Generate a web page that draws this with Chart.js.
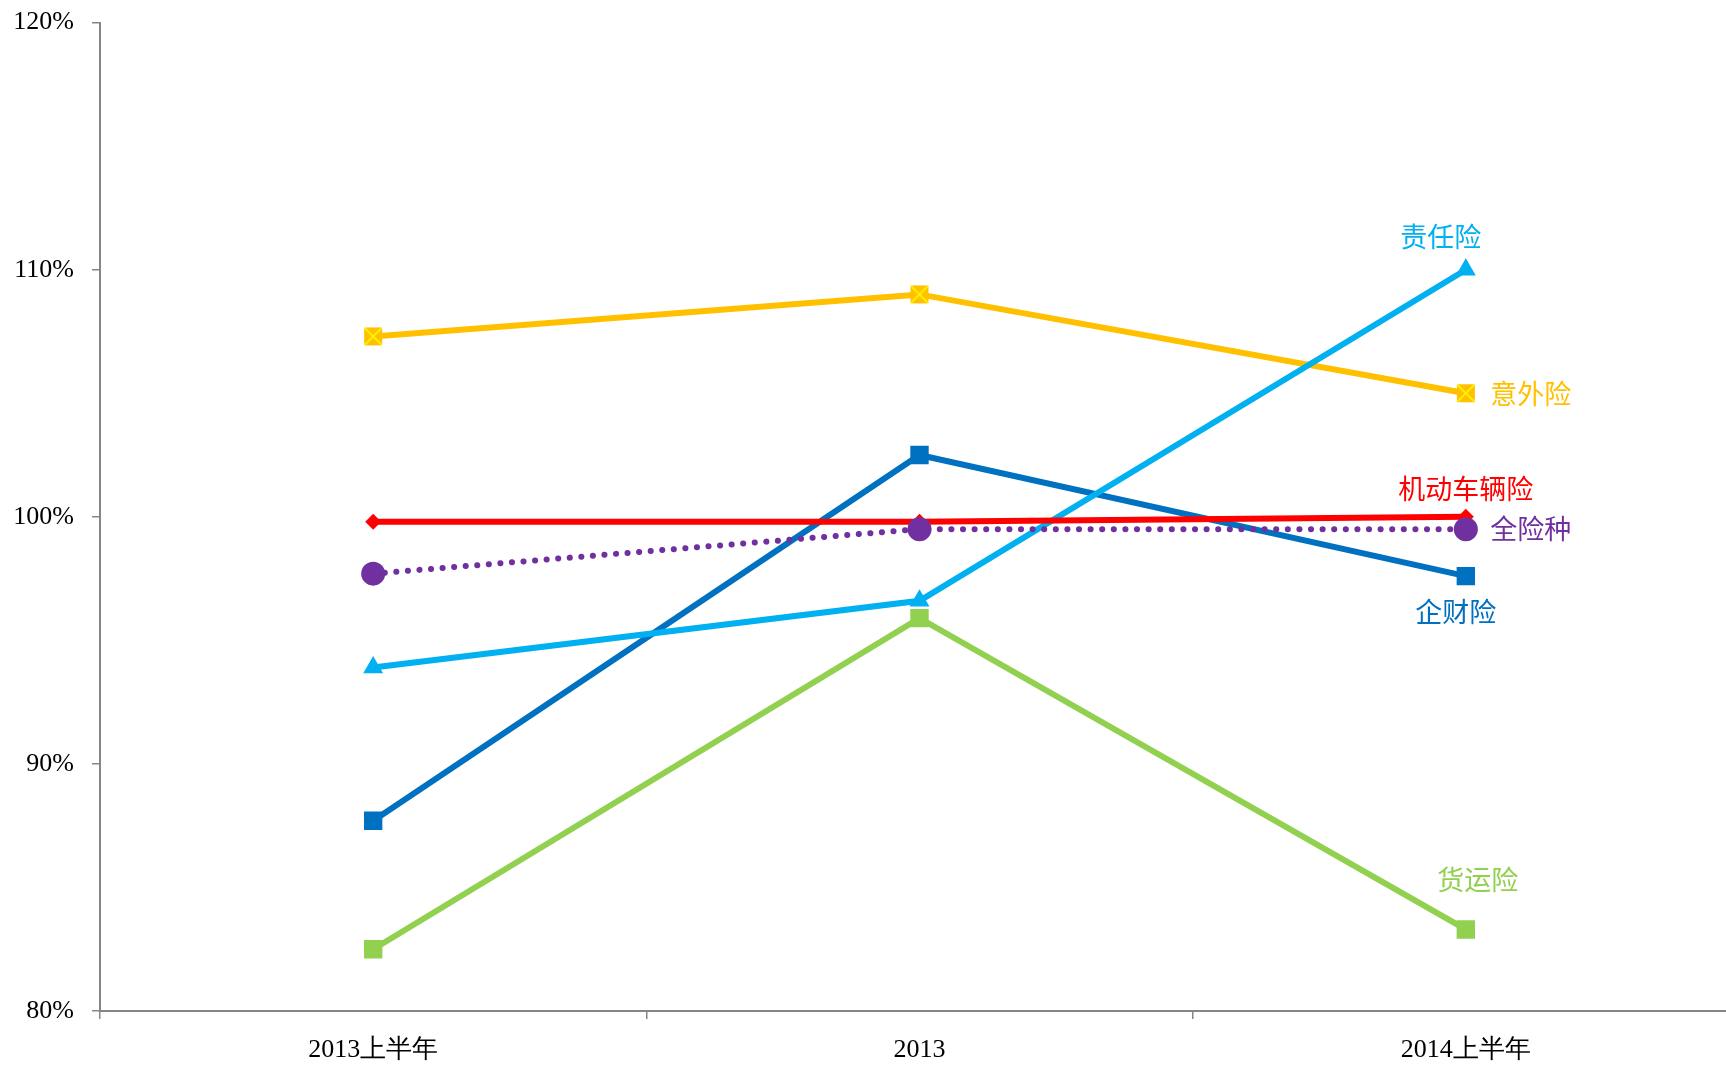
<!DOCTYPE html>
<html>
<head>
<meta charset="utf-8">
<script src="https://cdn.jsdelivr.net/npm/chart.js@4/dist/chart.umd.min.js"></script>
<style>
  html, body { margin: 0; padding: 0; background: #fff; overflow: hidden; }
  #clip { width: 1726px; height: 1066px; overflow: hidden; position: relative; }
  /* plot runs past the right edge, like the original */
  #chart { position: absolute; left: 0; top: -11px; }
</style>
</head>
<body>
<div id="clip"><canvas id="chart" width="1755" height="1077"></canvas></div>
<script>
// categories and tick labels
const periods = ['2013上半年', '2013', '2014上半年'];
const yTicks = [80, 90, 100, 110, 120];

// series values (%)
const accident = [107.3, 109.0, 105.0];   // 意外险
const liability = [93.9, 96.6, 110.0];    // 责任险
const motor = [99.8, 99.8, 100.0];        // 机动车辆险
const allLines = [97.7, 99.5, 99.5];      // 全险种
const property = [87.7, 102.5, 97.6];     // 企财险
const cargo = [82.5, 95.9, 83.3];         // 货运险

// yellow square with a yellow X, as in the original marker
function makeCrossBox() {
    const c = document.createElement('canvas');
    c.width = 20; c.height = 20;
    const g = c.getContext('2d');
    g.fillStyle = '#FFC000';
    g.fillRect(1, 1, 18, 18);
    g.strokeStyle = '#FFFF00';
    g.lineWidth = 1.6;
    g.beginPath();
    g.moveTo(1.5, 1.5); g.lineTo(18.5, 18.5);
    g.moveTo(18.5, 1.5); g.lineTo(1.5, 18.5);
    g.stroke();
    return c;
}

const lw = 6;

const datasets = [
    {
        label: '全险种', data: allLines, order: 1,
        borderColor: '#7030A0', backgroundColor: '#7030A0',
        borderWidth: lw, borderDash: [0.1, 11.5], borderCapStyle: 'round',
        pointStyle: 'circle', pointRadius: 12, pointBorderWidth: 0,
        tag: { dx: 65, dy: 0 }
    },
    {
        label: '机动车辆险', data: motor, order: 2,
        borderColor: '#FF0000', backgroundColor: '#FF0000',
        borderWidth: lw,
        pointStyle: 'rectRot', pointRadius: 8, pointBorderWidth: 0,
        tag: { dx: 0, dy: -28 }
    },
    {
        label: '责任险', data: liability, order: 3,
        borderColor: '#00B0F0', backgroundColor: '#00B0F0',
        borderWidth: lw,
        pointStyle: 'triangle', pointRadius: 11.5, pointBorderWidth: 0,
        tag: { dx: -25, dy: -33 }
    },
    {
        label: '货运险', data: cargo, order: 4,
        borderColor: '#92D050', backgroundColor: '#92D050',
        borderWidth: lw,
        pointStyle: 'rect', pointRadius: 13, pointBorderWidth: 0,
        tag: { dx: 12, dy: -50 }
    },
    {
        label: '企财险', data: property, order: 5,
        borderColor: '#0070C0', backgroundColor: '#0070C0',
        borderWidth: lw,
        pointStyle: 'rect', pointRadius: 13, pointBorderWidth: 0,
        tag: { dx: -10, dy: 36 }
    },
    {
        label: '意外险', data: accident, order: 6,
        borderColor: '#FFC000', backgroundColor: '#FFC000',
        borderWidth: lw,
        pointStyle: makeCrossBox(), pointRadius: 10,
        tag: { dx: 65, dy: 0 }
    }
];

// series names next to the last point
const endLabels = {
    id: 'endLabels',
    afterDatasetsDraw(chart) {
        const ctx = chart.ctx;
        ctx.save();
        ctx.font = '27px "Noto Sans CJK SC", sans-serif';
        ctx.textAlign = 'center';
        ctx.textBaseline = 'middle';
        chart.data.datasets.forEach((ds, i) => {
            const pts = chart.getDatasetMeta(i).data;
            const p = pts[pts.length - 1];
            ctx.fillStyle = ds.borderColor;
            ctx.fillText(ds.label, p.x + ds.tag.dx, p.y + ds.tag.dy);
        });
        ctx.restore();
    }
};

const axisColor = '#868686';
const serif = '"Liberation Serif", "Times New Roman", serif';

new Chart(document.getElementById('chart'), {
    type: 'line',
    data: { labels: periods, datasets: datasets },
    options: {
        responsive: false,
        animation: false,
        devicePixelRatio: 1,
        layout: { padding: { top: 9, right: 2, bottom: 0, left: 0 } },
        plugins: {
            legend: { display: false },
            tooltip: { enabled: false }
        },
        scales: {
            x: {
                offset: true,
                grid: {
                    offset: true, drawOnChartArea: false, drawTicks: true,
                    tickLength: 8, color: axisColor, lineWidth: 1.5
                },
                border: { color: axisColor, width: 2 },
                ticks: { color: '#000', font: { family: serif, size: 26 }, padding: 16, maxRotation: 0 },
                afterFit: (scale) => { scale.height = 55; }
            },
            y: {
                min: yTicks[0],
                max: yTicks[yTicks.length - 1],
                afterBuildTicks: (scale) => { scale.ticks = yTicks.map(v => ({ value: v })); },
                grid: {
                    drawOnChartArea: false, drawTicks: true,
                    tickLength: 8, color: axisColor, lineWidth: 1.5
                },
                border: { color: axisColor, width: 2 },
                ticks: {
                    color: '#000', font: { family: serif, size: 26 }, padding: 18,
                    callback: (v) => v + '%'
                },
                afterFit: (scale) => { scale.width = 100; }
            }
        }
    },
    plugins: [endLabels]
});
</script>
</body>
</html>
